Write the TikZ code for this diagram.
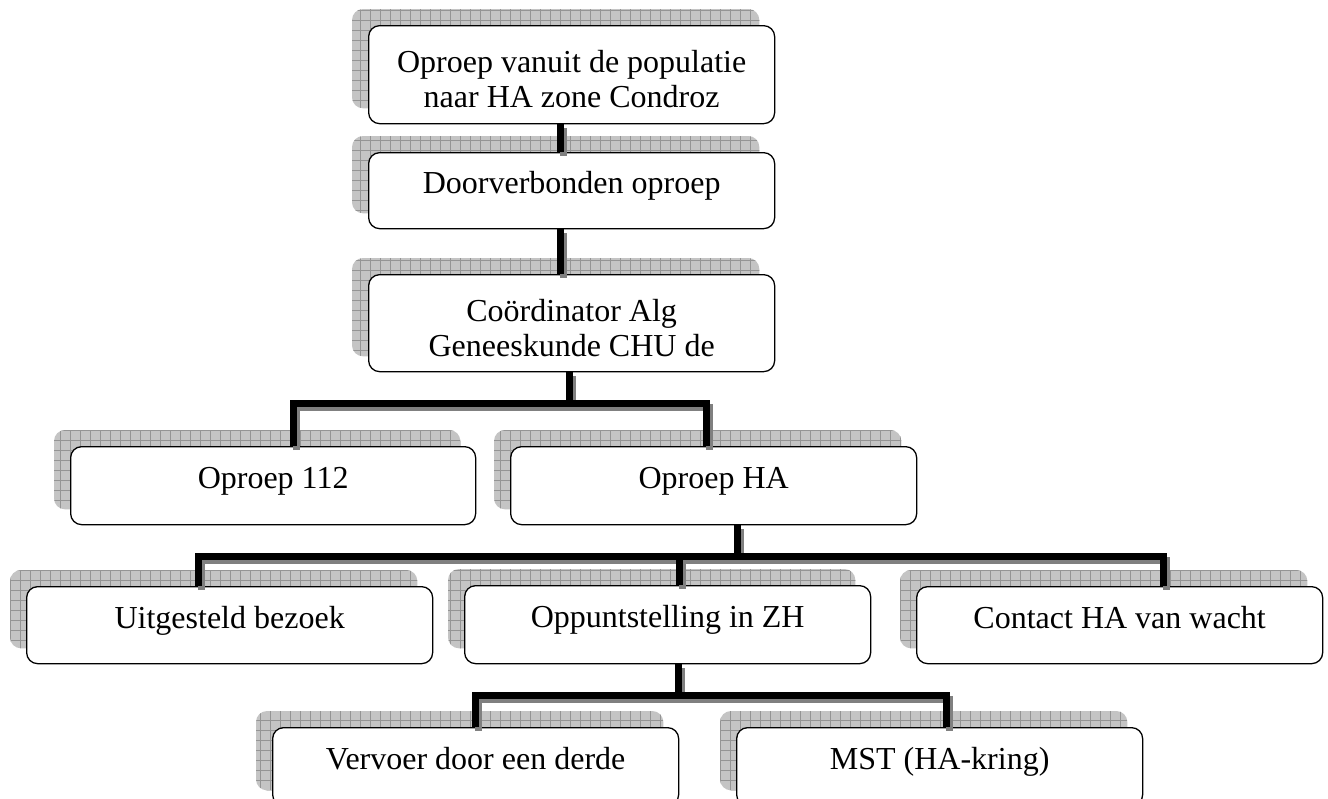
\documentclass[tikz,border=0pt]{standalone}
\usepackage{fontspec}
\setmainfont{Liberation Serif}
\usetikzlibrary{backgrounds}

\tikzset{
  orgbox/.style={draw, fill=white, line width=1.3pt, rounded corners=11pt,
    anchor=north west, minimum width=406pt, minimum height=78pt, inner sep=0pt,
    font=\fontsize{32pt}{35pt}\selectfont, text height=20pt, text depth=14pt},
  orgboxtwo/.style={orgbox, minimum height=98pt, align=center,
    text height=66pt, text depth=0pt},
  link/.style={line width=7pt,
    preaction={draw=black!50, line width=7pt, transform canvas={shift={(3pt,-4pt)}}}},
  shadowfill/.style={fill=black!23},
  shadowgrid/.style={draw=black!42, line width=0.7pt},
}

\begin{document}
\begin{tikzpicture}[x=1pt,y=-1pt]
\useasboundingbox (0,0) rectangle (1328,798);
\clip (0,0) rectangle (1328,798);

% boxes
\node[orgboxtwo] (call) at (368,25) {Oproep vanuit de populatie\\naar HA zone Condroz};
\node[orgbox, minimum height=76pt] (transfer) at (368,152) {Doorverbonden oproep};
\node[orgboxtwo, minimum height=97pt] (coord) at (368,274) {Coördinator Alg\\Geneeskunde CHU de};

\node[orgbox, minimum width=405pt] (call112) at (70,446) {Oproep 112};
\node[orgbox] (callha) at (510,446) {Oproep HA};

\node[orgbox, minimum height=77pt] (later) at (26,586) {Uitgesteld bezoek};
\node[orgbox] (zh) at (464,585) {Oppuntstelling in ZH};
\node[orgbox, minimum height=77pt] (oncall) at (916,586) {Contact HA van wacht};

\node[orgbox] (third) at (272,727) {Vervoer door een derde};
\node[orgbox] (mst) at (736,727) {MST (HA-kring)};

% shadows
\begin{scope}[on background layer]
\foreach \b in {call,transfer,coord,call112,callha,later,zh,oncall,third,mst}{
  \begin{scope}
    \clip[rounded corners=11pt] ([shift={(-16pt,16pt)}]\b.north west) rectangle ([shift={(-16pt,16pt)}]\b.south east);
    \fill[shadowfill] (0,0) rectangle (1328,798);
    \draw[shadowgrid, step=10pt] (0pt,-800pt) grid (1330pt,0pt);
  \end{scope}
}
\end{scope}

% links
\coordinate (top) at (560,0);
\draw[link] (call.south -| top) -- (transfer.north -| top);
\draw[link] (transfer.south -| top) -- (coord.north -| top);

\coordinate (j1) at (569,403.5);
\coordinate (j112) at (293,403.5);
\coordinate (jha) at (706,403.5);
\draw[link] (coord.south -| j1) -- (j1);
\draw[link] (call112.north -| j112) -- (j112) -- (jha) -- (callha.north -| jha);

\coordinate (j2) at (737,556.5);
\coordinate (jlater) at (198,556.5);
\coordinate (jzh) at (679,556.5);
\coordinate (joncall) at (1163,556.5);
\draw[link] (callha.south -| j2) -- (j2);
\draw[link] (later.north -| jlater) -- (jlater) -- (joncall) -- (oncall.north -| joncall);
\draw[link] (jzh) -- (zh.north -| jzh);

\coordinate (j3) at (678,695);
\coordinate (jthird) at (475,695);
\coordinate (jmst) at (946,695);
\draw[link] (zh.south -| j3) -- (j3);
\draw[link] (third.north -| jthird) -- (jthird) -- (jmst) -- (mst.north -| jmst);

\end{tikzpicture}
\end{document}
